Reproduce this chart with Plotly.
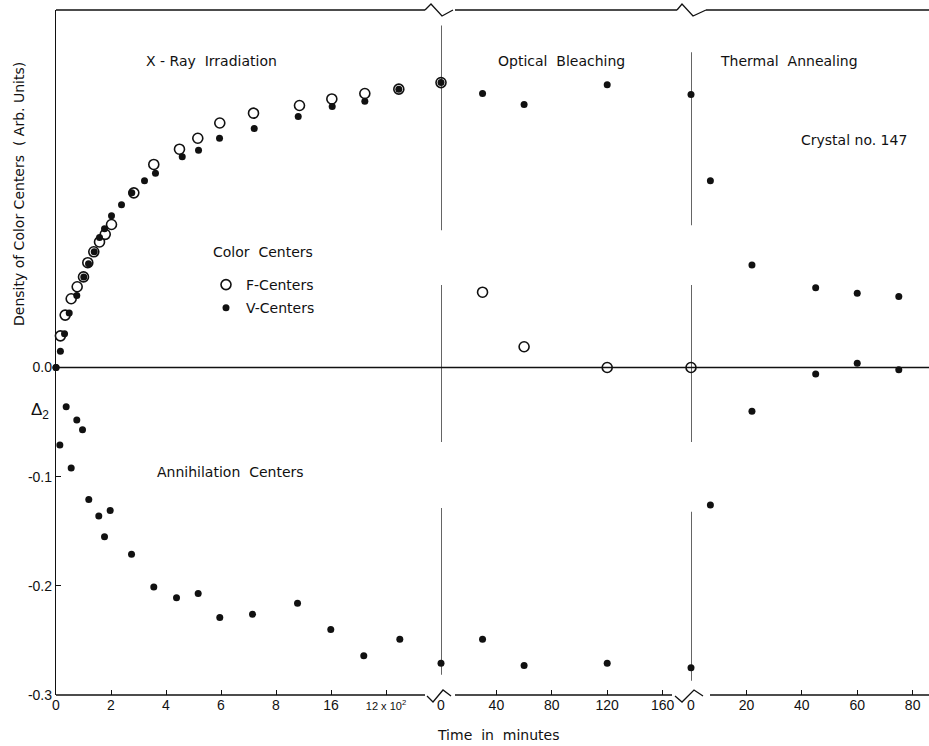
import plotly.graph_objects as go

# ---------------- data ----------------
# X-ray irradiation segment (x in axis-position units: one unit per labelled tick)
irr_tick_vals = [0, 1, 2, 3, 4, 5, 6]
irr_tick_text = ["0", "2", "4", "6", "8", "16",
                 "<span style='font-size:11px'>12 x 10<sup>2</sup></span>"]

irr_f_x = [0.08, 0.167, 0.276, 0.385, 0.5, 0.578, 0.687, 0.791, 0.895, 1.009,
           1.415, 1.778, 2.245, 2.578, 2.978, 3.591, 4.427, 5.015, 5.615, 6.233]
irr_f_y = [0.029, 0.048, 0.063, 0.074, 0.083, 0.096, 0.106, 0.115, 0.122, 0.131,
           0.160, 0.186, 0.200, 0.210, 0.224, 0.233, 0.240, 0.246, 0.251, 0.255]

irr_v_x = [0.0, 0.08, 0.155, 0.24, 0.378, 0.505, 0.591, 0.695, 0.791, 0.882, 1.009,
           1.191, 1.378, 1.609, 1.809, 2.295, 2.591, 2.973, 3.604, 4.404, 5.022,
           5.615, 6.233]
irr_v_y = [0.0, 0.015, 0.031, 0.050, 0.066, 0.083, 0.095, 0.106, 0.119, 0.127, 0.139,
           0.149, 0.160, 0.171, 0.178, 0.193, 0.199, 0.210, 0.219, 0.230, 0.239,
           0.244, 0.255]

irr_a_x = [0.0, 0.07, 0.185, 0.276, 0.378, 0.482, 0.596, 0.778, 0.882, 0.985,
           1.373, 1.778, 2.191, 2.585, 2.978, 3.573, 4.391, 4.996, 5.596, 6.251]
irr_a_y = [0.0, -0.071, -0.036, -0.092, -0.048, -0.057, -0.121, -0.136, -0.155, -0.131,
           -0.171, -0.201, -0.211, -0.207, -0.229, -0.226, -0.216, -0.240, -0.264, -0.249]

# Optical bleaching segment (minutes)
bleach_ticks = [0, 40, 80, 120, 160]
bleach_t = [0, 30, 60, 120]
bleach_f = [0.261, 0.069, 0.019, 0.0]
bleach_v = [0.261, 0.251, 0.241, 0.259]
bleach_a = [-0.271, -0.249, -0.273, -0.271]

# Thermal annealing segment (minutes)
anneal_ticks = [0, 20, 40, 60, 80]
anneal_t = [0, 7, 22, 45, 60, 75]
anneal_f_t = [0]
anneal_f = [0.0]
anneal_v = [0.250, 0.171, 0.094, 0.073, 0.068, 0.065]
anneal_a = [-0.275, -0.126, -0.040, -0.006, 0.004, -0.002]

y_tick_vals = [-0.3, -0.2, -0.1, 0.0]
y_tick_text = ["-0.3", "-0.2", "-0.1", "0.0"]
y_minor_vals = [0.1, 0.2, 0.3]   # unlabelled ticks on the colour-centre side

# ---------------- figure ----------------
W, H = 929, 746
L, T, B = 56, 10, 51
PW, PH = W - L, H - T - B
Y_RANGE = [-0.3, 0.3275]


def px(x):
    return (x - L) / PW


def py(y):
    return (H - B - y) / PH


FONT = "Liberation Sans, Arial, sans-serif"
TFONT = "DejaVu Sans, sans-serif"
BLACK = "#111111"

f_marker = dict(symbol="circle", size=10, color="white", line=dict(color=BLACK, width=1.6))
v_marker = dict(symbol="circle", size=7, color=BLACK, line=dict(width=0))

fig = go.Figure()

# irradiation
fig.add_trace(go.Scatter(x=irr_f_x, y=irr_f_y, mode="markers", marker=f_marker,
                         name="F-Centers", legendgroup="f", xaxis="x", yaxis="y",
                         cliponaxis=False))
fig.add_trace(go.Scatter(x=irr_v_x, y=irr_v_y, mode="markers", marker=v_marker,
                         name="V-Centers", legendgroup="v", xaxis="x", yaxis="y",
                         cliponaxis=False))
fig.add_trace(go.Scatter(x=irr_a_x, y=irr_a_y, mode="markers", marker=v_marker,
                         name="Annihilation Centers", showlegend=False, xaxis="x",
                         yaxis="y", cliponaxis=False))
# bleaching
fig.add_trace(go.Scatter(x=bleach_t, y=bleach_f, mode="markers", marker=f_marker,
                         showlegend=False, xaxis="x2", yaxis="y", cliponaxis=False))
fig.add_trace(go.Scatter(x=bleach_t, y=bleach_v, mode="markers", marker=v_marker,
                         showlegend=False, xaxis="x2", yaxis="y", cliponaxis=False))
fig.add_trace(go.Scatter(x=bleach_t, y=bleach_a, mode="markers", marker=v_marker,
                         showlegend=False, xaxis="x2", yaxis="y", cliponaxis=False))
# annealing
fig.add_trace(go.Scatter(x=anneal_f_t, y=anneal_f, mode="markers", marker=f_marker,
                         showlegend=False, xaxis="x3", yaxis="y", cliponaxis=False))
fig.add_trace(go.Scatter(x=anneal_t, y=anneal_v, mode="markers", marker=v_marker,
                         showlegend=False, xaxis="x3", yaxis="y", cliponaxis=False))
fig.add_trace(go.Scatter(x=anneal_t, y=anneal_a, mode="markers", marker=v_marker,
                         showlegend=False, xaxis="x3", yaxis="y", cliponaxis=False))

tickfont = dict(family=FONT, size=14, color=BLACK)
common_x = dict(showgrid=False, zeroline=False, showline=False, ticks="inside",
                ticklen=5, tickwidth=1.2, tickcolor=BLACK, tickfont=tickfont,
                anchor="y", fixedrange=True)

fig.update_layout(
    width=W, height=H,
    margin=dict(l=L, r=0, t=T, b=B),
    paper_bgcolor="white", plot_bgcolor="white",
    font=dict(family=FONT, size=14, color=BLACK),
    xaxis=dict(domain=[0, px(441)], range=[0, 7], tickmode="array",
               tickvals=irr_tick_vals, ticktext=irr_tick_text, **common_x),
    xaxis2=dict(domain=[px(441), px(691)], range=[0, 180.5], tickmode="array",
                tickvals=bleach_ticks, **common_x),
    xaxis3=dict(domain=[px(691), 1], range=[0, 85.9], tickmode="array",
                tickvals=anneal_ticks, **common_x),
    yaxis=dict(domain=[0, 1], range=Y_RANGE, tickmode="array",
               tickvals=y_tick_vals, ticktext=y_tick_text, showgrid=False,
               zeroline=False, showline=True, linecolor=BLACK, linewidth=1.3,
               ticks="inside", ticklen=5, tickwidth=1.2, tickcolor=BLACK,
               tickfont=tickfont, anchor="x", fixedrange=True),
    yaxis2=dict(overlaying="y", side="left", anchor="x", range=Y_RANGE,
                tickmode="array", tickvals=y_minor_vals, showticklabels=False,
                showgrid=False, zeroline=False, showline=False, ticks="inside",
                ticklen=5, tickwidth=1.2, tickcolor=BLACK, fixedrange=True),
    showlegend=True,
    legend=dict(x=px(206), y=py(269), xanchor="left", yanchor="top",
                bgcolor="rgba(0,0,0,0)", borderwidth=0,
                font=dict(family=TFONT, size=14), tracegroupgap=2,
                itemwidth=30),
)

line_style = dict(color=BLACK, width=1.3)
shapes = []
# top border with breaks
for x0, x1 in [(56, 425), (455, 677), (706, 929)]:
    shapes.append(dict(type="line", xref="paper", yref="paper", x0=px(x0), x1=px(x1),
                       y0=1, y1=1, line=line_style))
# bottom axis lines with breaks
for x0, x1 in [(56, 425), (455, 672), (710, 929)]:
    shapes.append(dict(type="line", xref="paper", yref="paper", x0=px(x0), x1=px(x1),
                       y0=0, y1=0, line=line_style))


def zig(points):
    return "M " + " L ".join(f"{px(a):.5f},{py(b):.5f}" for a, b in points)


for pts in [
    [(425, 10), (431, 4), (442, 16), (453, 10)],
    [(677, 10), (682, 4), (693, 16), (706, 10)],
    [(427, 696), (433, 702), (443, 690), (451, 696)],
    [(675, 696), (682, 702), (694, 690), (703, 696)],
]:
    shapes.append(dict(type="path", xref="paper", yref="paper", path=zig(pts),
                       line=line_style))

# zero line
shapes.append(dict(type="line", xref="paper", yref="y", x0=0, x1=1, y0=0, y1=0,
                   line=line_style))
# vertical segment dividers
for xr, segs in [("x2", [(0.3134, 0.1258), (0.0755, -0.0682), (-0.1286, -0.2814)]),
                 ("x3", [(0.2887, 0.1304), (0.0755, -0.0682), (-0.1322, -0.2869)])]:
    for y0, y1 in segs:
        shapes.append(dict(type="line", xref=xr, yref="y", x0=0, x1=0, y0=y0, y1=y1,
                           line=line_style))
fig.update_layout(shapes=shapes)

ann_font = dict(family=TFONT, size=14, color=BLACK)
annotations = [
    ("X - Ray  Irradiation", 211, 61),
    ("Optical  Bleaching", 561, 61),
    ("Thermal  Annealing", 789, 61),
    ("Crystal no. 147", 854, 140),
    ("Color  Centers", 263, 252),
    ("Annihilation  Centers", 230, 472),
    ("Time  in  minutes", 498, 735),
]
for text, x, y in annotations:
    fig.add_annotation(text=text, x=px(x), y=py(y), xref="paper", yref="paper",
                       showarrow=False, xanchor="center", yanchor="middle",
                       font=ann_font)
fig.add_annotation(text="Δ<sub>2</sub>", x=px(40), y=py(411), xref="paper",
                   yref="paper", showarrow=False, xanchor="center", yanchor="middle",
                   font=dict(family=FONT, size=17, color=BLACK))
fig.add_annotation(text="Density of Color Centers  ( Arb. Units)", x=px(19), y=py(194),
                   xref="paper", yref="paper", showarrow=False, textangle=-90,
                   xanchor="center", yanchor="middle",
                   font=dict(family=TFONT, size=14, color=BLACK))

fig.write_html("out.html",
               config={"displayModeBar": False},
               post_script="document.body.style.margin='0px';"
                           "document.body.style.overflow='hidden';")
